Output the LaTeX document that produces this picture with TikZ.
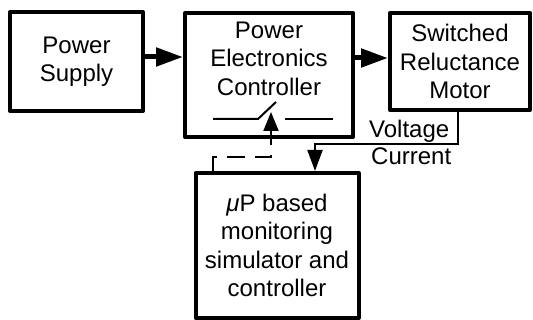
\documentclass[tikz,border=0pt]{standalone}
\usepackage{fontspec}
\setmainfont{Liberation Sans}
\usepackage{tikz}
\usetikzlibrary{arrows.meta,positioning}
\tikzstyle{blockbox} = [draw, line width=4pt, line join=round, align=center, inner sep=0pt, font=\fontsize{24}{28.5}\selectfont]
\tikzstyle{txt} = [align=center, inner sep=0pt, font=\fontsize{24}{28.5}\selectfont]
\tikzstyle{mainarrow} = [line width=5pt, -{Triangle[length=27pt,width=18pt]}]
\tikzstyle{feedarrow} = [line width=2pt, -{Triangle[length=21pt,width=15pt]}]

\begin{document}
\begin{tikzpicture}[x=1pt, y=-1pt]
\useasboundingbox (0,0) rectangle (533,320);

% Blocks
\node[blockbox, minimum width=133pt, minimum height=99pt] (supply) at (76.5,61.5) {Power\\Supply};
\node[blockbox, minimum width=168pt, minimum height=124pt] (pec) at (269,75) {};
\node[txt] (pectext) at (269,58.5) {Power\\Electronics\\Controller};
\node[blockbox, minimum width=140pt, minimum height=97pt] (srm) at (460,61.5) {Switched\\Reluctance\\Motor};
\node[blockbox, minimum width=163pt, minimum height=145pt] (monitor) at (277,245.5) {{\itshape μ}P based\\monitoring\\simulator and\\controller};

% Power flow
\draw[mainarrow] ([yshift=4.5pt]supply.east) -- ([yshift=4.5pt]supply.east -| pec.west);
\draw[mainarrow] ([yshift=3.5pt]srm.west -| pec.east) -- ([yshift=3.5pt]srm.west);

% Feedback from motor
\draw[feedarrow] ([xshift=-2pt]srm.south) |- ([xshift=38pt,yshift=27pt]monitor.north) -- ([xshift=38pt]monitor.north);
\node[txt, anchor=base west] (voltlabel) at (369,138) {Voltage};
\node[txt, anchor=base west] (currlabel) at (371,165) {Current};

% Switch
\coordinate (swleft) at (213,119);
\coordinate (swpivot) at (258,119);
\coordinate (swblade) at (276,102);
\coordinate (swright) at (285,119);
\coordinate (swend) at (333,119);
\draw[line width=2pt] (swleft) -- (swpivot) -- (swblade);
\draw[line width=2pt] (swright) -- (swend);

% Control signal
\coordinate (swtip) at (271,112);
\draw[feedarrow, dash pattern=on 18pt off 10pt, -{Triangle[length=19pt,width=15pt]}] ([xshift=-64pt]monitor.north) |- ([yshift=-18pt]swtip |- pec.south) -- (swtip);
\end{tikzpicture}
\end{document}
